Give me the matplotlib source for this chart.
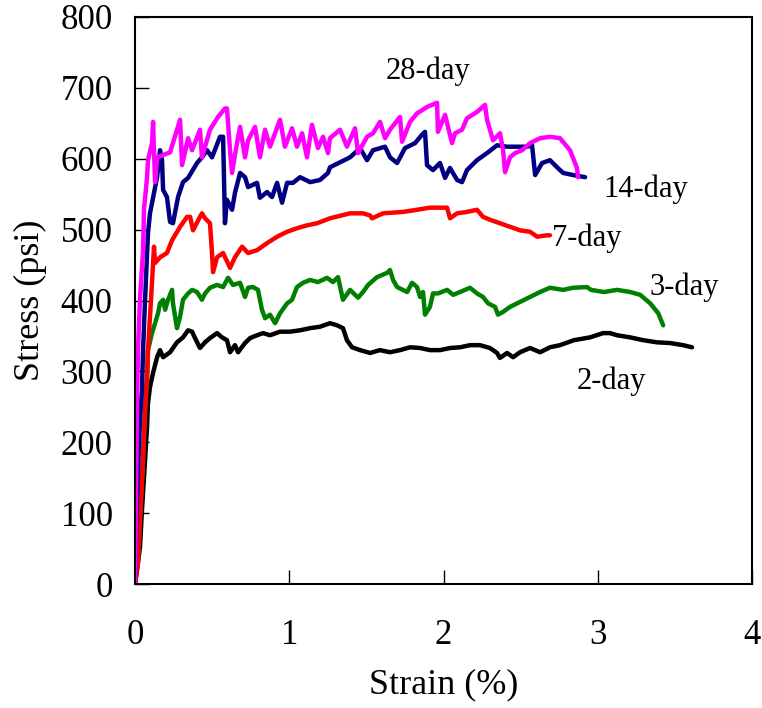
import matplotlib
matplotlib.use("Agg")
import matplotlib.pyplot as plt

plt.rcParams['font.family'] = ['Liberation Serif', 'DejaVu Serif']

# Stress-strain curves by curing age: strain (%) and stress (psi)
strain_28 = [0, 0.006, 0.013, 0.019, 0.032, 0.052, 0.058, 0.078, 0.084, 0.110, 0.117, 0.130, 0.143,
             0.227, 0.292, 0.305, 0.344, 0.370, 0.421, 0.434, 0.486, 0.538, 0.583, 0.596, 0.616,
             0.629, 0.661, 0.681, 0.713, 0.733, 0.778, 0.810, 0.843, 0.875, 0.940, 0.972, 1.018,
             1.050, 1.083, 1.115, 1.147, 1.186, 1.219, 1.251, 1.264, 1.329, 1.374, 1.426, 1.446,
             1.504, 1.543, 1.588, 1.621, 1.653, 1.718, 1.731, 1.783, 1.828, 1.893, 1.958, 1.964,
             2.010, 2.055, 2.075, 2.120, 2.152, 2.217, 2.269, 2.282, 2.321, 2.366, 2.386, 2.399,
             2.431, 2.464, 2.509, 2.561, 2.626, 2.690, 2.755, 2.820, 2.865, 2.872]
stress_28 = [0, 119, 260, 330, 401, 471, 528, 574, 598, 622, 652, 567, 602,
             609, 655, 591, 629, 612, 641, 602, 641, 659, 671, 671, 612,
             580, 622, 645, 602, 626, 645, 602, 641, 617, 655, 617, 643,
             617, 636, 602, 648, 615, 631, 608, 629, 641, 617, 643, 608,
             631, 636, 652, 629, 641, 659, 624, 652, 664, 673, 679, 638,
             662, 622, 636, 641, 657, 666, 676, 655, 626, 636, 612, 581,
             602, 608, 612, 622, 629, 631, 629, 612, 587, 574]

strain_14 = [0, 0.006, 0.013, 0.032, 0.045, 0.052, 0.065, 0.084, 0.097, 0.143, 0.162, 0.175, 0.182,
             0.207, 0.227, 0.246, 0.279, 0.311, 0.344, 0.402, 0.434, 0.467, 0.499, 0.551, 0.571,
             0.583, 0.596, 0.629, 0.648, 0.681, 0.713, 0.733, 0.791, 0.810, 0.856, 0.888, 0.921,
             0.953, 0.986, 1.024, 1.070, 1.135, 1.199, 1.251, 1.264, 1.329, 1.394, 1.459, 1.504,
             1.543, 1.621, 1.653, 1.699, 1.750, 1.815, 1.861, 1.880, 1.893, 1.932, 1.977, 2.010,
             2.042, 2.088, 2.120, 2.152, 2.217, 2.282, 2.347, 2.412, 2.477, 2.541, 2.574, 2.594,
             2.639, 2.690, 2.736, 2.775, 2.840, 2.918]
stress_14 = [0, 62, 119, 231, 274, 330, 401, 495, 523, 574, 612, 598, 556,
             546, 511, 509, 546, 567, 573, 594, 602, 612, 602, 631, 631,
             509, 542, 528, 552, 580, 574, 560, 566, 545, 553, 546, 566,
             538, 566, 566, 574, 567, 570, 580, 588, 595, 602, 615, 598,
             612, 617, 602, 594, 615, 622, 634, 638, 591, 584, 594, 573,
             587, 570, 567, 584, 598, 608, 619, 617, 617, 617, 619, 577,
             594, 598, 588, 580, 577, 574]

strain_7 = [0, 0.019, 0.032, 0.052, 0.065, 0.078, 0.084, 0.097, 0.110, 0.117, 0.123, 0.130, 0.162,
            0.207, 0.240, 0.292, 0.337, 0.357, 0.376, 0.421, 0.434, 0.454, 0.486, 0.499, 0.506,
            0.532, 0.571, 0.616, 0.648, 0.694, 0.733, 0.791, 0.856, 0.921, 0.986, 1.050, 1.115,
            1.180, 1.264, 1.394, 1.478, 1.524, 1.537, 1.608, 1.737, 1.828, 1.912, 2.023, 2.042,
            2.088, 2.152, 2.217, 2.256, 2.301, 2.366, 2.431, 2.496, 2.561, 2.607, 2.671, 2.690]
stress_7 = [0, 30, 90, 175, 245, 292, 330, 377, 425, 453, 476, 453, 461,
            467, 485, 504, 518, 518, 499, 518, 523, 516, 509, 467, 440,
            461, 467, 446, 461, 476, 467, 471, 481, 490, 497, 502, 506,
            509, 516, 523, 523, 520, 516, 523, 525, 528, 531, 531, 516,
            523, 525, 528, 518, 514, 509, 504, 499, 497, 490, 492, 492]

strain_3 = [0, 0.019, 0.032, 0.052, 0.065, 0.078, 0.084, 0.110, 0.130, 0.149, 0.162, 0.182, 0.195,
            0.214, 0.240, 0.246, 0.272, 0.292, 0.311, 0.344, 0.370, 0.402, 0.434, 0.454, 0.486,
            0.532, 0.571, 0.603, 0.635, 0.681, 0.713, 0.733, 0.765, 0.797, 0.823, 0.843, 0.875,
            0.908, 0.940, 0.986, 1.018, 1.050, 1.089, 1.135, 1.186, 1.245, 1.283, 1.316, 1.348,
            1.394, 1.446, 1.478, 1.511, 1.569, 1.634, 1.653, 1.673, 1.699, 1.764, 1.796, 1.828,
            1.848, 1.867, 1.880, 1.912, 1.932, 1.964, 2.023, 2.062, 2.107, 2.172, 2.217, 2.256,
            2.289, 2.334, 2.353, 2.386, 2.431, 2.496, 2.561, 2.626, 2.690, 2.775, 2.840, 2.930,
            2.956, 3.040, 3.125, 3.210, 3.275, 3.340, 3.392, 3.424]
stress_3 = [0, 38, 90, 175, 245, 292, 330, 354, 368, 382, 396, 401, 387,
            401, 415, 396, 361, 377, 401, 410, 415, 412, 401, 410, 418,
            422, 419, 432, 422, 425, 405, 418, 419, 415, 387, 375, 380,
            368, 382, 396, 401, 419, 425, 429, 426, 432, 426, 433, 401,
            415, 404, 412, 422, 433, 439, 443, 429, 419, 412, 425, 419,
            405, 412, 380, 391, 410, 410, 415, 408, 412, 418, 410, 405,
            396, 391, 380, 384, 391, 398, 405, 412, 418, 415, 418, 419,
            415, 412, 415, 412, 408, 396, 382, 365]

strain_2 = [0, 0.013, 0.032, 0.045, 0.065, 0.078, 0.084, 0.097, 0.117, 0.143, 0.162, 0.182, 0.227,
            0.272, 0.311, 0.344, 0.370, 0.389, 0.421, 0.454, 0.486, 0.532, 0.564, 0.596, 0.616,
            0.648, 0.668, 0.713, 0.746, 0.791, 0.830, 0.875, 0.940, 1.005, 1.070, 1.135, 1.199,
            1.264, 1.310, 1.348, 1.374, 1.407, 1.459, 1.524, 1.588, 1.653, 1.718, 1.783, 1.848,
            1.912, 1.977, 2.042, 2.107, 2.172, 2.236, 2.301, 2.347, 2.366, 2.412, 2.451, 2.496,
            2.561, 2.626, 2.690, 2.755, 2.845, 2.950, 3.034, 3.079, 3.125, 3.210, 3.295, 3.384,
            3.468, 3.553, 3.611]
stress_2 = [0, 20, 52, 104, 175, 222, 255, 278, 298, 320, 330, 320, 327,
            341, 348, 358, 356, 347, 333, 341, 347, 354, 348, 344, 327,
            337, 327, 340, 347, 351, 354, 351, 356, 356, 358, 361, 363,
            368, 365, 361, 344, 334, 330, 326, 330, 327, 330, 334, 333,
            330, 330, 333, 334, 337, 337, 333, 326, 319, 326, 320, 327,
            333, 327, 334, 337, 344, 348, 354, 354, 351, 348, 344, 341,
            340, 337, 334]

series = [
    (strain_2, stress_2, 'black'),
    (strain_3, stress_3, 'green'),
    (strain_7, stress_7, 'red'),
    (strain_14, stress_14, 'navy'),
    (strain_28, stress_28, 'magenta'),
]

# Curve labels placed beside each curve (strain, stress)
labels = ['28-day', '14-day', '7-day', '3-day', '2-day']
label_x = [1.90, 3.31, 2.93, 3.56, 3.09]
label_y = [724, 557, 488, 419, 286]

x_ticks = [0, 1, 2, 3, 4]
y_ticks = [0, 100, 200, 300, 400, 500, 600, 700, 800]

fig = plt.figure(figsize=(7.62, 7.08), dpi=100)
ax = fig.add_axes([0.1772, 0.1751, 0.8097, 0.8009])

for xs, ys, c in series:
    ax.plot(xs, ys, color=c, lw=3.2, solid_joinstyle='round', solid_capstyle='round')

for t, lx, ly in zip(labels, label_x, label_y):
    ax.text(lx, ly, t, fontsize=22, ha='center', va='center')

ax.set_xlim(0, 4)
ax.set_ylim(0, 800)
ax.set_xticks(x_ticks)
ax.set_yticks(y_ticks)
ax.tick_params(axis='both', direction='in', length=10, width=1, labelsize=25,
               top=False, right=False)
ax.tick_params(axis='x', pad=25)
ax.tick_params(axis='y', pad=16)
for s in ax.spines.values():
    s.set_linewidth(1.5)

ax.set_xlabel('Strain (%)', fontsize=26, labelpad=12)
ax.set_ylabel('Stress (psi)', fontsize=26, labelpad=10)

fig.savefig('out.png', dpi=100)
